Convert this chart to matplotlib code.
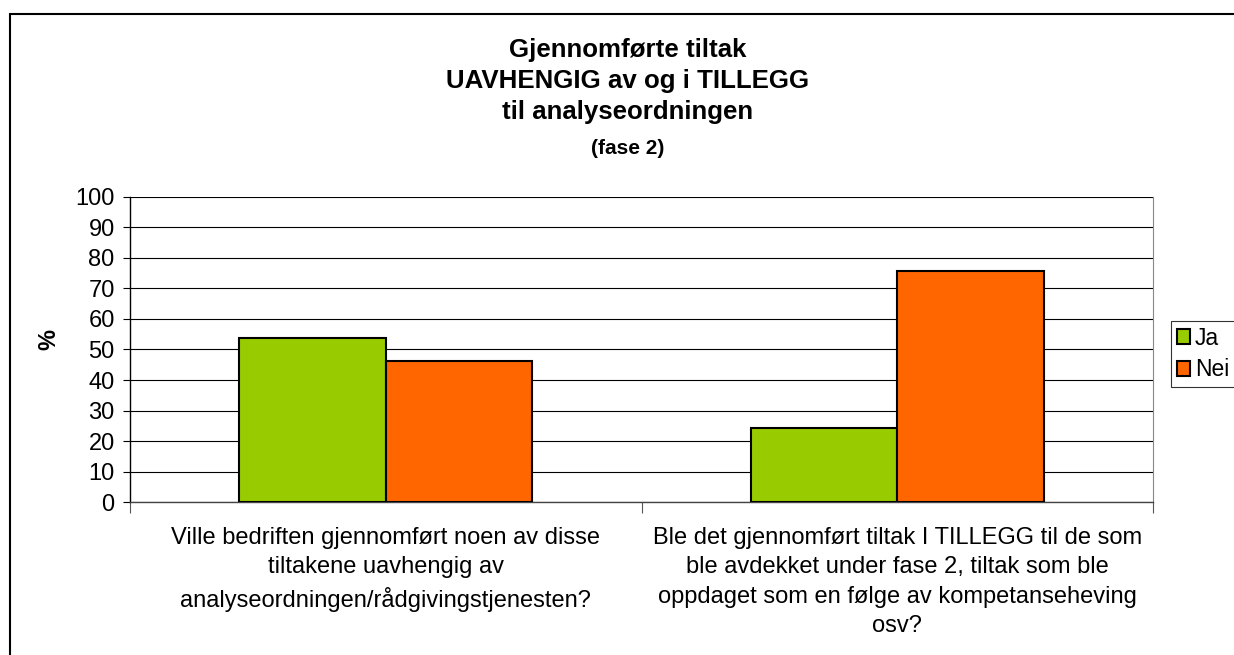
import matplotlib.pyplot as plt
import matplotlib.patches as mpatches
import numpy as np

plt.rcParams['font.family'] = ['Liberation Sans', 'DejaVu Sans']

categories = [
    'Ville bedriften gjennomført noen av disse\ntiltakene uavhengig av\nanalyseordningen/rådgivingstjenesten?',
    'Ble det gjennomført tiltak I TILLEGG til de som\nble avdekket under fase 2, tiltak som ble\noppdaget som en følge av kompetanseheving\nosv?',
]
ja = [53.8, 24.4]
nei = [46.2, 75.6]
yticks = list(range(0, 101, 10))

fig = plt.figure(figsize=(12.34, 6.55), dpi=100)
ax = fig.add_axes([130 / 1234, 1 - 502.3 / 655, (1153 - 130) / 1234, (502.3 - 196.7) / 655])

x = np.arange(len(categories))
w = 0.286
ax.bar(x - w / 2, ja, w, color='#99CC00', edgecolor='black', linewidth=1.5, label='Ja', zorder=3)
ax.bar(x + w / 2, nei, w, color='#FF6600', edgecolor='black', linewidth=1.5, label='Nei', zorder=3)

ax.set_xlim(-0.5, len(categories) - 0.5)
ax.set_ylim(0, 100)
ax.set_yticks(yticks)
ax.yaxis.grid(True, color='black', linewidth=0.8, zorder=0)
ax.tick_params(axis='y', labelsize=17, length=5, width=0.8, pad=6)

# category separators as major ticks, labels on minor ticks
ax.set_xticks(np.arange(-0.5, len(categories), 1.0))
ax.set_xticklabels([])
ax.tick_params(axis='x', which='major', length=8, width=0.8, color='#555555')
ax.set_xticks(x, minor=True)
ax.set_xticklabels(categories, minor=True, fontsize=17, linespacing=1.42)
ax.tick_params(axis='x', which='minor', length=0, pad=18)

ax.spines['top'].set_visible(False)
ax.spines['right'].set_color('#888888')
ax.spines['left'].set_linewidth(1.0)
ax.spines['bottom'].set_linewidth(1.0)
ax.spines['bottom'].set_color('#444444')

fig.text(49 / 1234, 1 - 340 / 655, '%', rotation=90, fontsize=17, fontweight='bold',
         ha='center', va='center')

fig.text(628 / 1234, 1 - 81 / 655, 'Gjennomførte tiltak\nUAVHENGIG av og i TILLEGG\ntil analyseordningen',
         fontsize=18.6, fontweight='bold', ha='center', va='center', linespacing=1.35)
fig.text(628 / 1234, 1 - 148 / 655, '(fase 2)', fontsize=15, fontweight='bold',
         ha='center', va='center')

leg = fig.legend(loc='upper left', bbox_to_anchor=(1171 / 1234, 1 - 321 / 655),
                 fontsize=16.5, frameon=True, fancybox=False, edgecolor='black',
                 handlelength=0.6, handleheight=0.6, handletextpad=0.2,
                 borderpad=0.25, labelspacing=0.38, borderaxespad=0)
leg.get_frame().set_linewidth(0.8)

# outer chart border
fig.patches.append(mpatches.Rectangle((9.5 / 1234, -0.05), 1.2, 1 - 14 / 655 + 0.05,
                                      transform=fig.transFigure, fill=False,
                                      edgecolor='black', linewidth=1.5))

fig.savefig('out.png', dpi=100)
